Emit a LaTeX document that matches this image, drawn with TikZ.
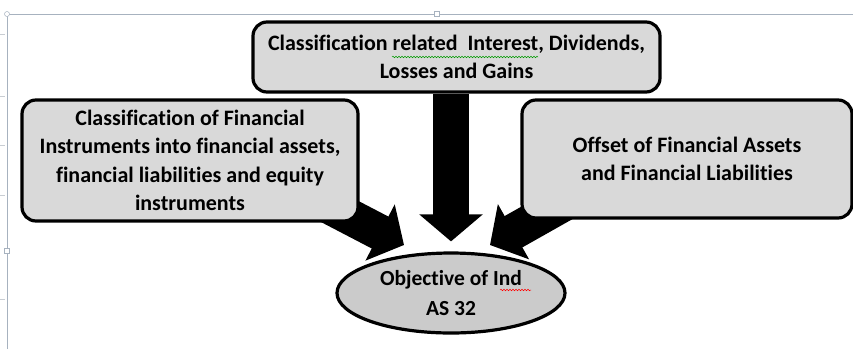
\documentclass[tikz,border=0pt]{standalone}
\usepackage{fontspec}
\setmainfont{Carlito}[Ligatures={NoCommon,NoRare,NoContextual}]
\usetikzlibrary{arrows.meta,shapes.geometric,backgrounds,decorations.pathmorphing}
\definecolor{boxfill}{HTML}{D9D9D9}
\definecolor{ovalfill}{HTML}{CBCBCB}
\definecolor{canvasline}{HTML}{A7B2BF}
\definecolor{tickgray}{HTML}{C8CDD3}
\begin{document}
\begin{tikzpicture}[x=1pt,y=-1pt,
  card/.style={draw=black, line width=3.2pt, fill=boxfill, rounded corners=14pt,
    align=center, inner sep=0pt, font=\fontsize{22}{28.5}\selectfont\bfseries},
  oval/.style={ellipse, draw=black, line width=3.2pt, fill=ovalfill, inner sep=0pt,
    align=center, font=\fontsize{21.5}{30}\selectfont\bfseries},
  bigarrow/.style={draw=black, line width=36pt, -{Triangle[width=62pt,length=27pt]}},
  squiggle/.style={decorate, decoration={snake, amplitude=0.8pt, segment length=3pt}, line width=0.5pt},
  handle/.style={draw=canvasline, fill=white, line width=0.5pt, minimum size=5pt, inner sep=0pt}]
\useasboundingbox (0,0) rectangle (853,349);

% drawing canvas edges
\draw[canvasline, line width=0.8pt] (7,349) -- (7,14) -- (853,14);
\foreach \ty in {34,96,145,195,299} \draw[tickgray, line width=0.6pt] (0,\ty) -- (5,\ty);
\node[handle, rectangle] (hTop) at (437,14) {};
\node[handle, rectangle] (hLeft) at (7,251) {};
\node[handle, circle, minimum size=5pt] (hCorner) at (7,14) {};

% boxes
\node[card, minimum width=407pt, minimum height=70pt] (top) at (456.5,57)
  {Classification related\ \ Interest, Dividends,\\Losses and Gains};
\node[card, minimum width=336pt, minimum height=121pt] (lb) at (190,160.5)
  {Classification of Financial\\Instruments into financial assets,\\financial liabilities and equity\\instruments};
\node[card, minimum width=330pt, minimum height=118pt] (rb) at (687,159)
  {Offset of Financial Assets\\and Financial Liabilities};
\node[oval, minimum width=228pt, minimum height=80pt] (obj) at (451,293)
  {Objective of Ind\\AS 32};

% spelling marks under words
\draw[squiggle, green!60!black] (392,57) -- (538,57);
\draw[squiggle, red] (500,290) -- (531,290);

% block arrows into the objective
\coordinate (ltip) at (404,245);
\coordinate (rtip) at (490,245);
\begin{scope}[on background layer]
  \draw[bigarrow] (top.south -| obj.north) -- ([yshift=10pt]obj.north);
  \draw[bigarrow] ([shift={(-60pt,32pt)}]lb.south east) -- (ltip);
  \draw[bigarrow] ([shift={(73pt,33pt)}]rb.south west) -- (rtip);
\end{scope}
\end{tikzpicture}
\end{document}
